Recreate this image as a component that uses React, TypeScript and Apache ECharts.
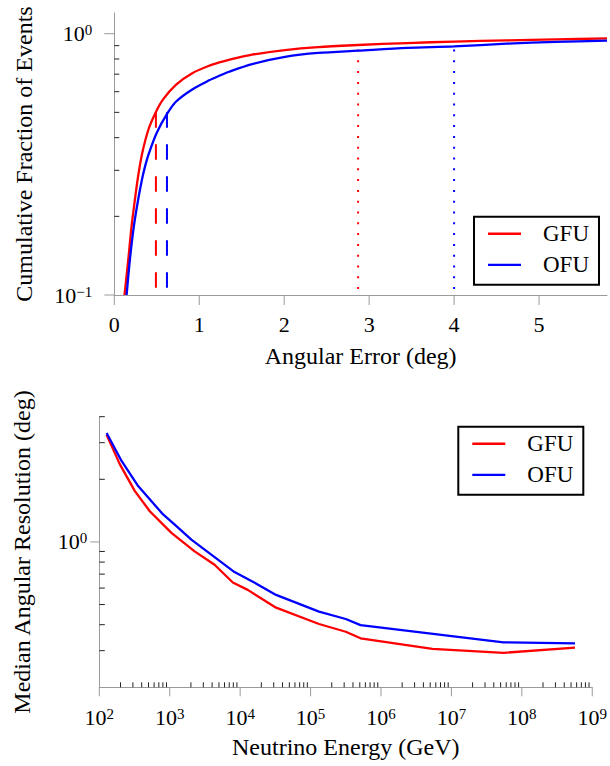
import React, { useEffect, useRef } from 'react';
import * as echarts from 'echarts';

// ---- Top panel: cumulative fraction vs angular error ----
const gfuErr = [0.12, 0.164, 0.203, 0.242, 0.28, 0.327, 0.4, 0.483, 0.572, 0.728, 0.922, 1.117, 1.236, 1.35, 1.622, 2.01, 2.4, 2.87, 3.45, 4.0, 4.62, 5.2, 5.8];
const gfuFrac = [0.1, 0.136, 0.183, 0.231, 0.284, 0.347, 0.428, 0.496, 0.559, 0.638, 0.707, 0.754, 0.776, 0.794, 0.831, 0.866, 0.889, 0.905, 0.921, 0.933, 0.943, 0.951, 0.959];
const ofuErr = [0.145, 0.183, 0.23, 0.28, 0.327, 0.366, 0.408, 0.5, 0.619, 0.728, 0.922, 1.117, 1.236, 1.35, 1.622, 2.01, 2.4, 2.87, 3.45, 4.0, 4.62, 5.2, 5.8];
const ofuFrac = [0.1, 0.136, 0.183, 0.231, 0.278, 0.314, 0.349, 0.418, 0.492, 0.55, 0.613, 0.663, 0.69, 0.715, 0.765, 0.815, 0.844, 0.861, 0.882, 0.894, 0.916, 0.93, 0.94];
const gfuMedianErr = 0.49;
const ofuMedianErr = 0.62;
const gfu90Err = 2.87;
const ofu90Err = 4.0;
const medianFrac = [0.5, 0.1];
const q90Frac = [0.87, 0.1];
const errTicks = [0, 1, 2, 3, 4, 5];
const fracMajorTicks = [0.1, 1];
const fracMinorTicks = [0.2, 0.3, 0.4, 0.5, 0.6, 0.7, 0.8, 0.9];

// ---- Bottom panel: median angular resolution vs neutrino energy ----
const gfuEnergy = [127, 196, 320, 521, 1057, 2259, 4335, 7870, 12823, 32359, 131826, 316228, 512861, 5370318, 54954087, 568852931];
const gfuRes = [3.27, 2.36, 1.755, 1.405, 1.105, 0.901, 0.777, 0.638, 0.588, 0.483, 0.403, 0.37, 0.344, 0.306, 0.293, 0.31];
const ofuEnergy = [127, 207, 356, 805, 1178, 2028, 3890, 8318, 15849, 32359, 131826, 316228, 512861, 54954087, 568852931];
const ofuRes = [3.34, 2.45, 1.856, 1.355, 1.212, 1.026, 0.869, 0.716, 0.638, 0.556, 0.462, 0.426, 0.398, 0.329, 0.325];
const energyDecades = [1e2, 1e3, 1e4, 1e5, 1e6, 1e7, 1e8, 1e9];
const minorMultipliers = [2, 3, 4, 5, 6, 7, 8, 9];
const resMajorTicks = [1];
const resMinorTicks = [0.3, 0.4, 0.5, 0.6, 0.7, 0.8, 0.9, 2, 3, 4];

const FONT = 'Liberation Serif';
const RED = '#ff0000';
const BLUE = '#0000ff';
const AXIS_GREY = '#9a9a9a';

const richLabel = {
  b: { fontFamily: FONT, fontSize: 22, lineHeight: 22, color: '#000', padding: [2, 0, 0, 0], verticalAlign: 'bottom' },
  s: { fontFamily: FONT, fontSize: 15, lineHeight: 15, color: '#000', verticalAlign: 'top' },
};

function powLabel(v: number): string {
  const e = Math.log10(v);
  const r = Math.round(e);
  if (Math.abs(e - r) > 1e-6) return '';
  const exp = r < 0 ? '\u2212' + Math.abs(r) : String(r);
  return '{b|10}{s|' + exp + '}';
}

function tickRender(params: any, api: any) {
  const p = api.coord([api.value(0), api.value(1)]);
  const major = api.value(4) === 0;
  return {
    type: 'line',
    shape: { x1: p[0], y1: p[1], x2: p[0] + api.value(2), y2: p[1] + api.value(3) },
    style: { stroke: major ? AXIS_GREY : '#222', lineWidth: 1 },
  };
}

export default function App() {
  const ref = useRef<HTMLDivElement>(null);
  useEffect(() => {
    if (!ref.current) return;
    const chart = echarts.init(ref.current, undefined, { renderer: 'svg' });

    const topTicks: number[][] = [];
    errTicks.forEach((v) => topTicks.push([v, 0.1, 0, 10, 0]));
    fracMajorTicks.forEach((v) => topTicks.push([0, v, -10, 0, 0]));
    fracMinorTicks.forEach((v) => topTicks.push([0, v, 5, 0, 1]));

    const botTicks: number[][] = [];
    energyDecades.forEach((v) => botTicks.push([v, 0.2, 0, 9, 0]));
    energyDecades.slice(0, -1).forEach((d) =>
      minorMultipliers.forEach((m) => botTicks.push([d * m, 0.2, 0, -5, 1]))
    );
    resMajorTicks.forEach((v) => botTicks.push([100, v, -9, 0, 0]));
    resMinorTicks.forEach((v) => botTicks.push([100, v, 5.5, 0, 1]));

    const axisLine = { show: true, lineStyle: { color: AXIS_GREY, width: 1 } };
    const nameStyle = { fontFamily: FONT, fontSize: 24, color: '#000' };

    const legendBase = {
      data: ['GFU', 'OFU'],
      orient: 'vertical',
      icon: 'rect',
      padding: [5.5, 10, 8.3, 14],
      itemWidth: 33,
      itemHeight: 2.4,
      itemGap: 8.2,
      borderColor: '#000',
      borderWidth: 2,
      borderRadius: 0,
      backgroundColor: '#fff',
      selectedMode: false,
      textStyle: { fontFamily: FONT, fontSize: 23, lineHeight: 19, color: '#000', padding: [0, 0, 0, 17] },
    };

    chart.setOption({
      animation: false,
      backgroundColor: '#fff',
      legend: [
        { ...legendBase, left: 474, top: 216.7 },
        { ...legendBase, left: 458.3, top: 426.7 },
      ],
      grid: [
        { left: 114.3, top: 13, width: 495.7, height: 282 },
        { left: 99.3, top: 416.7, width: 494.7, height: 270.6 },
      ],
      xAxis: [
        {
          type: 'value', gridIndex: 0, min: 0, max: 5.8, interval: 1,
          axisLine, axisTick: { show: false }, splitLine: { show: false },
          axisLabel: {
            margin: 18, fontFamily: FONT, fontSize: 22, color: '#000',
            formatter: (v: number) => (Number.isInteger(v) ? String(v) : ''),
          },
          name: 'Angular Error (deg)', nameLocation: 'middle', nameGap: 49, nameTextStyle: nameStyle,
        },
        {
          type: 'log', gridIndex: 1, min: 1e2, max: 1e9, logBase: 10,
          axisLine, axisTick: { show: false }, splitLine: { show: false },
          axisLabel: { margin: 19, formatter: powLabel, rich: richLabel },
          name: 'Neutrino Energy (GeV)', nameLocation: 'middle', nameGap: 48, nameTextStyle: nameStyle,
        },
      ],
      yAxis: [
        {
          type: 'log', gridIndex: 0, min: 0.1, max: 1.2, logBase: 10,
          axisLine, axisTick: { show: false }, splitLine: { show: false },
          axisLabel: { margin: 22, formatter: powLabel, rich: richLabel },
          name: 'Cumulative Fraction of Events', nameLocation: 'middle', nameGap: 78, nameTextStyle: nameStyle,
        },
        {
          type: 'log', gridIndex: 1, min: 0.2, max: 4, logBase: 10,
          axisLine, axisTick: { show: false }, splitLine: { show: false },
          axisLabel: { margin: 12, formatter: powLabel, rich: richLabel },
          name: 'Median Angular Resolution (deg)', nameLocation: 'middle', nameGap: 65, nameTextStyle: nameStyle,
        },
      ],
      series: [
        {
          name: 'GFU', type: 'line', xAxisIndex: 0, yAxisIndex: 0,
          data: gfuErr.map((x, i) => [x, gfuFrac[i]]),
          symbol: 'none', smooth: 0.3, lineStyle: { color: RED, width: 2.3 }, itemStyle: { color: RED }, z: 4,
        },
        {
          name: 'OFU', type: 'line', xAxisIndex: 0, yAxisIndex: 0,
          data: ofuErr.map((x, i) => [x, ofuFrac[i]]),
          symbol: 'none', smooth: 0.3, lineStyle: { color: BLUE, width: 2.3 }, itemStyle: { color: BLUE }, z: 4,
        },
        {
          name: 'GFU median', type: 'line', xAxisIndex: 0, yAxisIndex: 0,
          data: medianFrac.map((f) => [gfuMedianErr, f]),
          symbol: 'none', lineStyle: { color: RED, width: 2, type: [15.5, 16.5] }, z: 3,
        },
        {
          name: 'OFU median', type: 'line', xAxisIndex: 0, yAxisIndex: 0,
          data: medianFrac.map((f) => [ofuMedianErr, f]),
          symbol: 'none', lineStyle: { color: BLUE, width: 2, type: [15.5, 16.5] }, z: 3,
        },
        {
          name: 'GFU 90%', type: 'line', xAxisIndex: 0, yAxisIndex: 0,
          data: q90Frac.map((f) => [gfu90Err, f]),
          symbol: 'none', lineStyle: { color: RED, width: 2, type: [2, 8.8] }, z: 3,
        },
        {
          name: 'OFU 90%', type: 'line', xAxisIndex: 0, yAxisIndex: 0,
          data: q90Frac.map((f) => [ofu90Err, f]),
          symbol: 'none', lineStyle: { color: BLUE, width: 2, type: [2, 8.8] }, z: 3,
        },
        {
          name: 'GFU', type: 'line', xAxisIndex: 1, yAxisIndex: 1,
          data: gfuEnergy.map((x, i) => [x, gfuRes[i]]),
          symbol: 'none', lineStyle: { color: RED, width: 2.3 }, itemStyle: { color: RED }, z: 4,
        },
        {
          name: 'OFU', type: 'line', xAxisIndex: 1, yAxisIndex: 1,
          data: ofuEnergy.map((x, i) => [x, ofuRes[i]]),
          symbol: 'none', lineStyle: { color: BLUE, width: 2.3 }, itemStyle: { color: BLUE }, z: 4,
        },
        {
          name: 'ticksTop', type: 'custom', xAxisIndex: 0, yAxisIndex: 0, clip: false, silent: true,
          data: topTicks, renderItem: tickRender, z: 5,
        },
        {
          name: 'ticksBottom', type: 'custom', xAxisIndex: 1, yAxisIndex: 1, clip: false, silent: true,
          data: botTicks, renderItem: tickRender, z: 5,
        },
      ],
    });
    return () => chart.dispose();
  }, []);
  return (
    <div
      ref={ref}
      style={{ position: 'fixed', left: 0, top: 0, width: 610, height: 766, background: '#fff' }}
    />
  );
}
